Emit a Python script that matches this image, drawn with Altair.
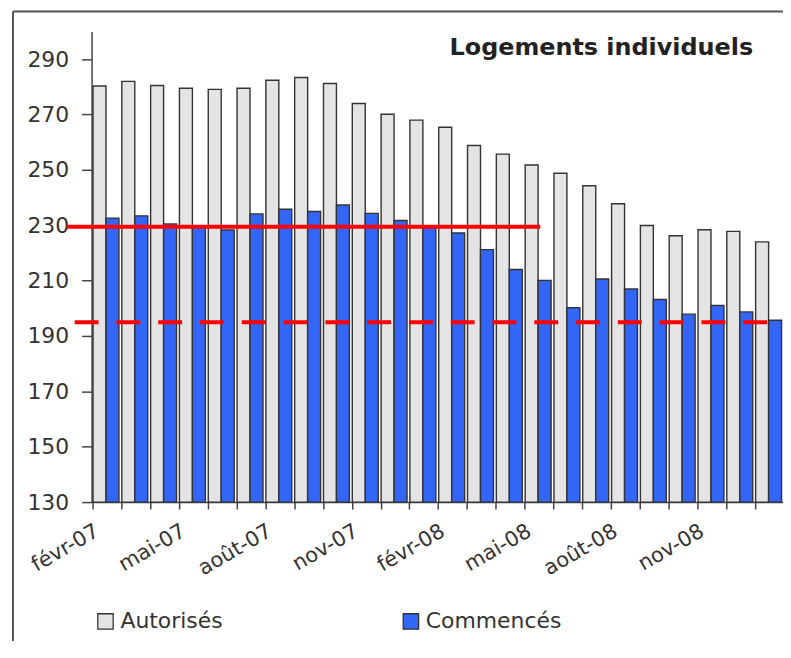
import json
import altair as alt
import pandas as pd

# ---------------- data ----------------
months = ["févr-07", "mars-07", "avr-07", "mai-07", "juin-07", "juil-07", "août-07",
          "sept-07", "oct-07", "nov-07", "déc-07", "janv-08", "févr-08", "mars-08",
          "avr-08", "mai-08", "juin-08", "juil-08", "août-08", "sept-08", "oct-08",
          "nov-08", "déc-08", "janv-09"]
shown_labels = ["févr-07", "mai-07", "août-07", "nov-07", "févr-08", "mai-08", "août-08", "nov-08"]
autorises = [280.3, 282.0, 280.5, 279.5, 279.1, 279.5, 282.4, 283.4, 281.2, 274.0, 270.1, 268.0,
             265.4, 258.8, 255.7, 251.8, 248.8, 244.3, 237.8, 229.9, 226.2, 228.4, 227.8, 224.0]
commences = [232.6, 233.4, 230.5, 229.5, 228.3, 234.1, 235.8, 235.0, 237.3, 234.3, 231.7, 229.6,
             227.2, 221.2, 214.0, 210.1, 200.2, 210.6, 207.0, 203.2, 197.9, 201.0, 198.7, 195.7]
series = ["Autorisés", "Commencés"]
colors = ["#e4e4e4", "#3366f6"]
y_ticks = [130, 150, 170, 190, 210, 230, 250, 270, 290]
y_domain = [130, 300]
title_text = "Logements individuels"
ref_solid = 229.5
ref_dashed = 195

rows = []
for m, a, c in zip(months, autorises, commences):
    rows.append({"mois": m, "série": series[0], "valeur": a})
    rows.append({"mois": m, "série": series[1], "valeur": c})
df = pd.DataFrame(rows)

FONT = "DejaVu Sans"
TXT = "#333333"
W, H = 695, 473

label_expr = "indexof(" + json.dumps(shown_labels, ensure_ascii=False) + ", datum.value) >= 0 ? datum.value : ''"

bars = alt.Chart(df).mark_bar(stroke="#333333", strokeWidth=1.4).encode(
    x=alt.X("mois:N", sort=months,
            scale=alt.Scale(paddingInner=0.1, paddingOuter=0.05),
            axis=alt.Axis(title=None, bandPosition=0, labelAngle=330, labelAlign="right",
                          labelBaseline="top", labelExpr=label_expr, labelOverlap=False,
                          labelFont=FONT, labelFontSize=21, labelColor=TXT, labelPadding=11,
                          labelOffset=-14,
                          tickSize=7, tickWidth=1.5, tickColor="#444444",
                          domainColor="#444444", domainWidth=1.5)),
    xOffset=alt.XOffset("série:N", sort=series,
                        scale=alt.Scale(paddingInner=0, paddingOuter=0)),
    y=alt.Y("valeur:Q", stack=None,
            scale=alt.Scale(domain=y_domain, zero=False, nice=False),
            axis=alt.Axis(title=None, values=y_ticks, labelFont=FONT, labelFontSize=22,
                          labelColor=TXT, labelPadding=13, tickSize=10, tickWidth=1.5,
                          tickColor="#444444", domainColor="#444444", domainWidth=1.5,
                          grid=False)),
    y2=alt.datum(y_domain[0]),
    color=alt.Color("série:N", sort=series,
                    scale=alt.Scale(domain=series, range=colors),
                    legend=alt.Legend(title=None, orient="none", legendX=3, legendY=582,
                                      direction="horizontal", columns=2, columnPadding=178,
                                      symbolType="square", symbolSize=240,
                                      symbolStrokeColor="#333333", symbolStrokeWidth=1.3,
                                      labelFont=FONT, labelFontSize=22, labelColor=TXT,
                                      labelOffset=4, padding=0)),
)

one = pd.DataFrame({"t": [title_text]})

title = alt.Chart(one).mark_text(font=FONT, fontSize=24, fontWeight="bold", color="#222222",
                                 align="right", baseline="middle").encode(
    x=alt.value(665), y=alt.value(17), text="t:N")

frame_left = alt.Chart(one).mark_rule(color="#555555", strokeWidth=2).encode(
    x=alt.value(-79), y=alt.value(-20), y2=alt.value(700))
frame_top = alt.Chart(one).mark_rule(color="#555555", strokeWidth=2).encode(
    y=alt.value(-20), x=alt.value(-79), x2=alt.value(W + 20))

red_solid = alt.Chart(one).mark_rule(color="#ff0000", strokeWidth=4).encode(
    y=alt.datum(ref_solid), x=alt.value(-25), x2=alt.value(451))
red_dashed = alt.Chart(one).mark_rule(color="#ff0000", strokeWidth=4, strokeDash=[24, 18]).encode(
    y=alt.datum(ref_dashed), x=alt.value(-17), x2=alt.value(W + 20))

chart = alt.layer(bars, red_solid, red_dashed, title, frame_left, frame_top).properties(
    width=W, height=H, autosize="none",
    padding={"left": 84, "top": 22, "right": 0, "bottom": 138},
    background="white",
).configure_view(stroke=None)

chart.save("out.html", embed_options={"renderer": "svg", "actions": False})
